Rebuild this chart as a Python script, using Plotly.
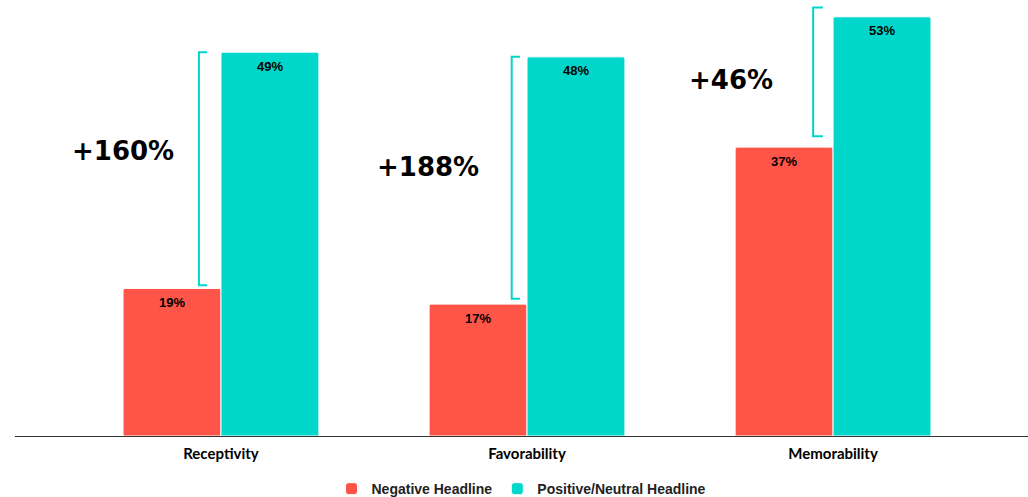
import plotly.graph_objects as go

categories = ["Receptivity", "Favorability", "Memorability"]
negative = [18.8, 16.8, 36.8]
positive = [48.9, 48.3, 53.4]
lift_labels = ["+160%", "+188%", "+46%"]

RED = "#FF5448"
TEAL = "#00D6CA"
BAR_W = 0.32

fig = go.Figure()
fig.add_trace(go.Bar(
    x=list(range(len(categories))), y=negative, name="Negative Headline",
    marker=dict(color=RED, line=dict(color="white", width=1), cornerradius=2),
))
fig.add_trace(go.Bar(
    x=list(range(len(categories))), y=positive, name="Positive/Neutral Headline",
    marker=dict(color=TEAL, line=dict(color="white", width=1), cornerradius=2),
))

# value labels near the top inside the bars
for series, off in ((negative, -BAR_W / 2), (positive, BAR_W / 2)):
    for i, v in enumerate(series):
        fig.add_annotation(x=i + off, y=v, text=f"{round(v)}%", showarrow=False,
                           yshift=-14, xanchor="center", yanchor="middle",
                           font=dict(family="Liberation Sans", size=13, color="black",
                                     weight="bold"))

# brackets
br_x = [-0.072, -0.05, -0.065]
br_w = [0.027, 0.027, 0.032]
top_off = [0.0, 0.0, 1.2]
bot_off = [0.4, 0.7, 1.4]
for i in range(len(categories)):
    x0 = i + br_x[i]
    x1 = x0 + br_w[i]
    yt = positive[i] + top_off[i]
    yb = negative[i] + bot_off[i]
    fig.add_shape(type="path",
                  path=f"M {x1} {yt} L {x0} {yt} L {x0} {yb} L {x1} {yb}",
                  line=dict(color=TEAL, width=2), xref="x", yref="y")

lab_x = [-0.32, -0.324, -0.333]
lab_y = [36.3, 34.3, 45.4]
for i, t in enumerate(lift_labels):
    fig.add_annotation(x=i + lab_x[i], y=lab_y[i], text=t, showarrow=False,
                       font=dict(family="DejaVu Sans", size=26, color="black", weight="bold"),
                       xanchor="center", yanchor="middle")

fig.update_layout(
    width=1028, height=497,
    margin=dict(l=15, r=0, t=0, b=61, autoexpand=False),
    plot_bgcolor="white", paper_bgcolor="white",
    barmode="group", bargap=0.36, bargroupgap=0,
    showlegend=True,
    legend=dict(orientation="h", x=0.5, xanchor="center", yref="container",
                y=0.016, yanchor="middle",
                font=dict(family="Liberation Sans", size=14, color="#222", weight="bold"),
                itemwidth=30, traceorder="normal"),
    xaxis=dict(range=[-0.673, 2.637], tickmode="array", tickvals=list(range(len(categories))),
               ticktext=categories, showline=True, linecolor="#333", linewidth=1,
               showgrid=False, zeroline=False, ticks="", ticklabelstandoff=4,
               automargin=False,
               tickfont=dict(family="Lato", size=15, color="black", weight="bold")),
    yaxis=dict(range=[0, 436 / 7.85], visible=False, showgrid=False, zeroline=False),
)

fig.write_html("out.html")
